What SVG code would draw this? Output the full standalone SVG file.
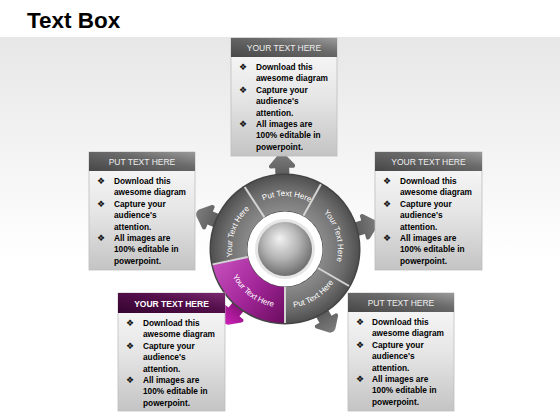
<svg xmlns="http://www.w3.org/2000/svg" width="560" height="420" viewBox="0 0 560 420">
<defs>
<linearGradient id="bg" x1="0" y1="37" x2="0" y2="260" gradientUnits="userSpaceOnUse"><stop offset="0" stop-color="#e7e7e7"/><stop offset="1" stop-color="#ffffff"/></linearGradient>
<linearGradient id="hdr" x1="0" y1="1" x2="1" y2="0"><stop offset="0" stop-color="#474747"/><stop offset="0.6" stop-color="#6a6a6a"/><stop offset="1" stop-color="#9a9a9a"/></linearGradient>
<linearGradient id="hdrP" x1="0" y1="1" x2="1" y2="0"><stop offset="0" stop-color="#350430"/><stop offset="0.6" stop-color="#55104c"/><stop offset="1" stop-color="#7a2a70"/></linearGradient>
<linearGradient id="body" x1="0" y1="0" x2="0" y2="1"><stop offset="0" stop-color="#fbfbfb"/><stop offset="0.5" stop-color="#e6e6e6"/><stop offset="1" stop-color="#c4c4c4"/></linearGradient>
<radialGradient id="seg" cx="285" cy="249" r="76" gradientUnits="userSpaceOnUse"><stop offset="0.5" stop-color="#8a8a8a"/><stop offset="0.8" stop-color="#6c6c6c"/><stop offset="1" stop-color="#4c4c4c"/></radialGradient>
<linearGradient id="segP" x1="215" y1="262" x2="285" y2="320" gradientUnits="userSpaceOnUse"><stop offset="0" stop-color="#c64fbc"/><stop offset="0.5" stop-color="#a3279a"/><stop offset="1" stop-color="#6c0d60"/></linearGradient>
<linearGradient id="arr" x1="0" y1="0" x2="1" y2="0"><stop offset="0" stop-color="#4e4e4e"/><stop offset="1" stop-color="#7c7c7c"/></linearGradient>
<linearGradient id="arrP" x1="0" y1="0" x2="1" y2="0"><stop offset="0" stop-color="#6e0a62"/><stop offset="1" stop-color="#cc22b8"/></linearGradient>
<radialGradient id="ball" cx="0.45" cy="0.4" r="0.6" fx="0.4" fy="0.3"><stop offset="0" stop-color="#f2f2f2"/><stop offset="0.55" stop-color="#b4b4b4"/><stop offset="1" stop-color="#6e6e6e"/></radialGradient>
<path id="arrowShape" d="M64,-7 L81,-7 L81,-12 Q82.5,-14 84.5,-12.5 L94.5,-3.5 Q97,0 94.5,3.5 L84.5,12.5 Q82.5,14 81,12 L81,7 L64,7 Z"/>
<path id="tpTop" d="M252.37,207.24 A53,53 0 0 1 320.46,209.62"/>
<path id="tpRight" d="M315.40,205.58 A53,53 0 0 1 333.03,271.40"/>
<path id="tpLeft" d="M235.20,267.13 A53,53 0 0 1 258.5,203.10"/>
<path id="tpPurple" d="M227.51,262.27 A59,59 0 0 0 288.09,307.92"/>
<path id="tpBR" d="M276.79,307.43 A59,59 0 0 0 341.11,267.23"/>
</defs>
<style>
.title{font-family:"Liberation Sans",Arial,sans-serif;font-weight:bold;font-size:22.5px;fill:#000}
.box-body{fill:url(#body);stroke:#bdbdbd;stroke-width:0.8}
.box-hdr{fill:url(#hdr)}
.box-hdrP{fill:url(#hdrP)}
.hdr-txt{font-family:"Liberation Sans",Arial,sans-serif;font-size:8.5px;fill:#eeeeee;text-anchor:middle}
.hdr-txtP{font-family:"Liberation Sans",Arial,sans-serif;font-size:8.5px;font-weight:bold;fill:#ffffff;text-anchor:middle}
.bul{font-family:"DejaVu Sans",sans-serif;font-size:9px;fill:#111}
.txt{font-family:"Liberation Sans",Arial,sans-serif;font-weight:bold;font-size:8.3px;fill:#000}
.seg-txt{font-family:"Liberation Sans",Arial,sans-serif;font-size:8px;fill:#ffffff;text-anchor:middle}
.divider{stroke:#d4d4d4;stroke-width:2}
</style>
<rect x="0" y="0" width="560" height="420" fill="#ffffff"/>
<rect x="0" y="37" width="560" height="383" fill="url(#bg)"/>
<text class="title" x="27" y="28">Text Box</text>

<g id="connectors">
<use href="#arrowShape" fill="url(#arr)" transform="translate(285,249) rotate(-92)"/>
<use href="#arrowShape" fill="url(#arr)" transform="translate(285,249) rotate(-15.5)"/>
<use href="#arrowShape" fill="url(#arr)" transform="translate(285,249) rotate(60)"/>
<use href="#arrowShape" fill="url(#arrP)" transform="translate(285,249) rotate(129)"/>
<use href="#arrowShape" fill="url(#arr)" transform="translate(285,249) rotate(-157.5)"/>
</g>

<g id="wheel">
<circle cx="285" cy="249" r="75.5" fill="#444"/>
<g id="seg-top"><path d="M244.70,186.94 A74,74 0 0 1 320.88,184.28 L303.42,215.77 A38,38 0 0 0 264.31,217.13 Z" fill="url(#seg)"/>
<text class="seg-txt"><textPath href="#tpTop" startOffset="50%">Put Text Here</textPath></text></g>
<g id="seg-right"><path d="M320.88,184.28 A74,74 0 0 1 349.09,286.00 L317.91,268.00 A38,38 0 0 0 303.42,215.77 Z" fill="url(#seg)"/>
<text class="seg-txt"><textPath href="#tpRight" startOffset="50%">Your Text Here</textPath></text></g>
<g id="seg-bottom-right"><path d="M349.09,286.00 A74,74 0 0 1 285,323 L285,287 A38,38 0 0 0 317.91,268.00 Z" fill="url(#seg)"/>
<text class="seg-txt"><textPath href="#tpBR" startOffset="50%">Put Text Here</textPath></text></g>
<g id="seg-purple"><path d="M285,323 A74,74 0 0 1 212.62,264.38 L247.83,256.90 A38,38 0 0 0 285,287 Z" fill="url(#segP)"/>
<text class="seg-txt"><textPath href="#tpPurple" startOffset="50%">Your Text Here</textPath></text></g>
<g id="seg-left"><path d="M212.62,264.38 A74,74 0 0 1 244.70,186.94 L264.31,217.13 A38,38 0 0 0 247.83,256.90 Z" fill="url(#seg)"/>
<text class="seg-txt"><textPath href="#tpLeft" startOffset="50%">Your Text Here</textPath></text></g>
<line class="divider" x1="244.70" y1="186.94" x2="264.31" y2="217.13"/>
<line class="divider" x1="320.88" y1="184.28" x2="303.42" y2="215.77"/>
<line class="divider" x1="349.09" y1="286.00" x2="317.91" y2="268.00"/>
<line class="divider" x1="285" y1="323" x2="285" y2="287"/>
<line class="divider" x1="212.62" y1="264.38" x2="247.83" y2="256.90"/>
<circle cx="285" cy="249" r="37.5" fill="#ffffff"/>
<circle cx="285" cy="249" r="30" fill="#e6e6e6"/>
<circle cx="285" cy="249" r="27" fill="url(#ball)"/>
</g>

<g id="box-top" transform="translate(231,38)">
<rect class="box-body" x="0" y="0" width="106" height="118"/>
<rect class="box-hdr" x="0" y="0" width="106" height="19"/>
<text class="hdr-txt" x="53" y="13">YOUR TEXT HERE</text>
<text class="bul" x="8" y="32">❖</text><text class="txt" x="25" y="32">Download this</text>
<text class="txt" x="25" y="43.4">awesome diagram</text>
<text class="bul" x="8" y="54.8">❖</text><text class="txt" x="25" y="54.8">Capture your</text>
<text class="txt" x="25" y="66.2">audience's</text>
<text class="txt" x="25" y="77.6">attention.</text>
<text class="bul" x="8" y="89">❖</text><text class="txt" x="25" y="89">All images are</text>
<text class="txt" x="25" y="100.4">100% editable in</text>
<text class="txt" x="25" y="111.8">powerpoint.</text>
</g>

<g id="box-left" transform="translate(89,152)">
<rect class="box-body" x="0" y="0" width="106" height="118"/>
<rect class="box-hdr" x="0" y="0" width="106" height="19"/>
<text class="hdr-txt" x="53" y="13">PUT TEXT HERE</text>
<text class="bul" x="8" y="32">❖</text><text class="txt" x="25" y="32">Download this</text>
<text class="txt" x="25" y="43.4">awesome diagram</text>
<text class="bul" x="8" y="54.8">❖</text><text class="txt" x="25" y="54.8">Capture your</text>
<text class="txt" x="25" y="66.2">audience's</text>
<text class="txt" x="25" y="77.6">attention.</text>
<text class="bul" x="8" y="89">❖</text><text class="txt" x="25" y="89">All images are</text>
<text class="txt" x="25" y="100.4">100% editable in</text>
<text class="txt" x="25" y="111.8">powerpoint.</text>
</g>

<g id="box-right" transform="translate(375,152)">
<rect class="box-body" x="0" y="0" width="107" height="118"/>
<rect class="box-hdr" x="0" y="0" width="107" height="19"/>
<text class="hdr-txt" x="53.5" y="13">YOUR TEXT HERE</text>
<text class="bul" x="8" y="32">❖</text><text class="txt" x="25" y="32">Download this</text>
<text class="txt" x="25" y="43.4">awesome diagram</text>
<text class="bul" x="8" y="54.8">❖</text><text class="txt" x="25" y="54.8">Capture your</text>
<text class="txt" x="25" y="66.2">audience's</text>
<text class="txt" x="25" y="77.6">attention.</text>
<text class="bul" x="8" y="89">❖</text><text class="txt" x="25" y="89">All images are</text>
<text class="txt" x="25" y="100.4">100% editable in</text>
<text class="txt" x="25" y="111.8">powerpoint.</text>
</g>

<g id="box-purple" transform="translate(118,293)">
<rect class="box-body" x="0" y="0" width="107" height="118"/>
<rect class="box-hdrP" x="0" y="0" width="107" height="20"/>
<text class="hdr-txtP" x="53.5" y="14">YOUR TEXT HERE</text>
<text class="bul" x="8" y="33">❖</text><text class="txt" x="25" y="33">Download this</text>
<text class="txt" x="25" y="44.4">awesome diagram</text>
<text class="bul" x="8" y="55.8">❖</text><text class="txt" x="25" y="55.8">Capture your</text>
<text class="txt" x="25" y="67.2">audience's</text>
<text class="txt" x="25" y="78.6">attention.</text>
<text class="bul" x="8" y="90">❖</text><text class="txt" x="25" y="90">All images are</text>
<text class="txt" x="25" y="101.4">100% editable in</text>
<text class="txt" x="25" y="112.8">powerpoint.</text>
</g>

<g id="box-bottom-right" transform="translate(348,293)">
<rect class="box-body" x="0" y="0" width="106" height="118"/>
<rect class="box-hdr" x="0" y="0" width="106" height="19"/>
<text class="hdr-txt" x="53" y="13">PUT TEXT HERE</text>
<text class="bul" x="8" y="32">❖</text><text class="txt" x="24" y="32">Download this</text>
<text class="txt" x="24" y="43.4">awesome diagram</text>
<text class="bul" x="8" y="54.8">❖</text><text class="txt" x="24" y="54.8">Capture your</text>
<text class="txt" x="24" y="66.2">audience's</text>
<text class="txt" x="24" y="77.6">attention.</text>
<text class="bul" x="8" y="89">❖</text><text class="txt" x="24" y="89">All images are</text>
<text class="txt" x="24" y="100.4">100% editable in</text>
<text class="txt" x="24" y="111.8">powerpoint.</text>
</g>
</svg>
